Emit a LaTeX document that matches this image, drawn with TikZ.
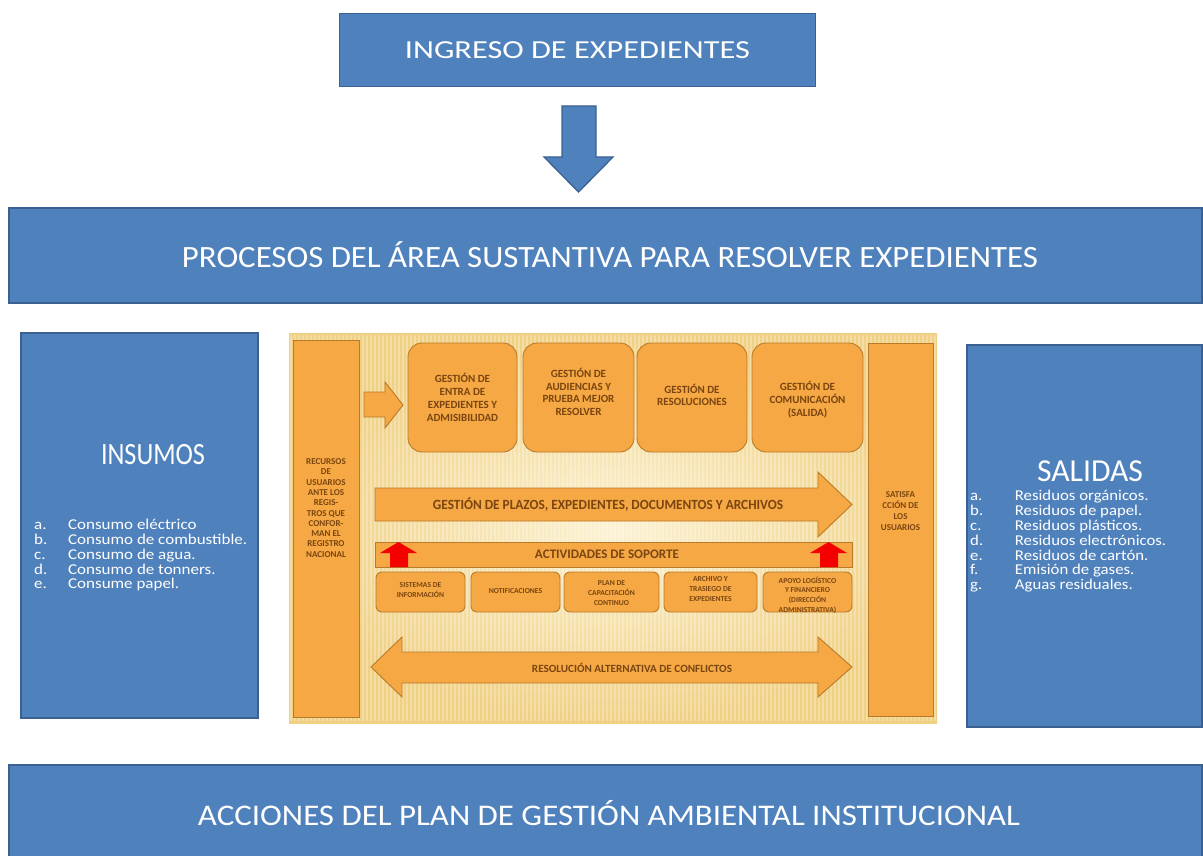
\documentclass[tikz,border=0pt]{standalone}
\usepackage{fontspec}
\usepackage{graphicx}
\setmainfont{Carlito}
\definecolor{blueF}{HTML}{4F81BD}
\definecolor{blueD}{HTML}{3B6193}
\definecolor{orF}{HTML}{F5A843}
\definecolor{orD}{HTML}{B97A2A}
\definecolor{txtB}{HTML}{7A4510}
\definecolor{bgC}{HTML}{FCF2D2}
\definecolor{bgE}{HTML}{F0D083}
\definecolor{redA}{HTML}{F50000}
\begin{document}
\begin{tikzpicture}[x=1pt,y=-1pt,
  bluebox/.style={draw=blueD, line width=1.3pt, fill=blueF, text=white, inner sep=0pt},
  bluetxt/.style={text=white, inner sep=0pt},
  orbox/.style={draw=orD, line width=0.9pt, fill=orF, inner sep=0pt},
  orround/.style={orbox, rounded corners=14pt},
  orsmall/.style={orbox, rounded corners=6pt},
  ortxt/.style={text=txtB, align=center, inner sep=0pt},
  bigtxt/.style={ortxt, font=\bfseries\fontsize{11}{12.8}\selectfont},
  bartxt/.style={ortxt, font=\bfseries\fontsize{9}{10.3}\selectfont},
  smalltxt/.style={ortxt, font=\bfseries\fontsize{7.6}{9.6}\selectfont},
  orarrow/.style={draw=orD, line width=0.9pt, fill=orF},
  redarrow/.style={fill=redA, draw=none},
  bluearrow/.style={draw=blueD, line width=1.3pt, fill=blueF},
]
\useasboundingbox (0,0) rectangle (1203,856);
\fill[white] (0,0) rectangle (1203,856);

% ---------- top box and arrow ----------
\node[bluebox, minimum width=476pt, minimum height=73pt] (ingreso) at (577.5,50)
  {\fontsize{26}{30}\selectfont\resizebox{345pt}{\height}{INGRESO DE EXPEDIENTES}};
\draw[bluearrow] (562,106) -- (596,106) -- (596,157) -- (613,157) -- (578.5,192)
  -- (544,157) -- (562,157) -- cycle;

% ---------- banner procesos ----------
\node[bluebox, minimum width=1193pt, minimum height=95pt] (procesos) at (605.5,255.5) {};
\node[bluetxt] (procesosT) at (610,255)
  {\fontsize{31}{34}\selectfont\resizebox{856pt}{\height}{PROCESOS DEL ÁREA SUSTANTIVA PARA RESOLVER EXPEDIENTES}};

% ---------- insumos ----------
\node[bluebox, minimum width=237pt, minimum height=385pt] (insumos) at (139.5,525.5) {};
\node[bluetxt] (insumosT) at (153,455)
  {\fontsize{31}{34}\selectfont\resizebox{104pt}{\height}{INSUMOS}};
\node[bluetxt, anchor=north west] (insumosL) at (34,519)
  {\resizebox{213pt}{\height}{\fontsize{15}{14.7}\selectfont
   \begin{tabular}{@{}p{30pt}@{}l@{}}
   a. & Consumo eléctrico\\
   b. & Consumo de combustible.\\
   c. & Consumo de agua.\\
   d. & Consumo de tonners.\\
   e. & Consume papel.
   \end{tabular}}};

% ---------- salidas ----------
\node[bluebox, minimum width=235pt, minimum height=382pt] (salidas) at (1084.5,536) {};
\node[bluetxt] (salidasT) at (1090,471)
  {\fontsize{32}{35}\selectfont\resizebox{106pt}{\height}{SALIDAS}};
\node[bluetxt, anchor=north west] (salidasL) at (970,490)
  {\resizebox{196pt}{\height}{\fontsize{15}{14.8}\selectfont
   \begin{tabular}{@{}p{40pt}@{}l@{}}
   a. & Residuos orgánicos.\\
   b. & Residuos de papel.\\
   c. & Residuos plásticos.\\
   d. & Residuos electrónicos.\\
   e. & Residuos de cartón.\\
   f. & Emisión de gases.\\
   g. & Aguas residuales.
   \end{tabular}}};

% ---------- central panel ----------
\shade[inner color=bgC, outer color=bgE] (289,333) rectangle (937,723);
\foreach \i in {0,...,161}
  \draw[white, opacity=0.28, line width=1.3pt] ({291+4*\i},335) -- ++(0,386);

% side bars
\node[orbox, minimum width=66pt, minimum height=377pt] (recursos) at (326,528.5) {};
\node[bartxt] (recursosT) at (326,508)
  {RECURSOS\\DE\\USUARIOS\\ANTE LOS\\REGIS-\\TROS QUE\\CONFOR-\\MAN EL\\REGISTRO\\NACIONAL};
\node[orbox, minimum width=65pt, minimum height=373pt] (satisf) at (900.5,529.5) {};
\node[bartxt, font=\bfseries\fontsize{9}{10.8}\selectfont] (satisfT) at (900.5,511)
  {SATISFA\\CCIÓN DE\\LOS\\USUARIOS};

% top process boxes
\node[orround, minimum width=109pt, minimum height=109pt] (g1) at (462.5,397.5) {};
\node[bigtxt] (g1T) at (462.5,397.5) {GESTIÓN DE\\ENTRA DE\\EXPEDIENTES Y\\ADMISIBILIDAD};
\node[orround, minimum width=111pt, minimum height=109pt] (g2) at (578.5,397.5) {};
\node[bigtxt] (g2T) at (578.5,392) {GESTIÓN DE\\AUDIENCIAS Y\\PRUEBA MEJOR\\RESOLVER};
\node[orround, minimum width=110pt, minimum height=109pt] (g3) at (692,397.5) {};
\node[bigtxt] (g3T) at (692,395) {GESTIÓN DE\\RESOLUCIONES};
\node[orround, minimum width=111pt, minimum height=109pt] (g4) at (807.5,397.5) {};
\node[bigtxt] (g4T) at (807.5,400) {GESTIÓN DE\\COMUNICACIÓN\\(SALIDA)};

% small input arrow
\draw[orarrow] (364,392) -- (385,392) -- (385,382) -- (403,405) -- (385,428)
  -- (385,417) -- (364,417) -- cycle;

% plazos arrow
\draw[orarrow] (375,488) -- (818,488) -- (818,472) -- (852,504.5) -- (818,537)
  -- (818,521) -- (375,521) -- cycle;
\node[ortxt, font=\bfseries] (plazosT) at (608,504.5)
  {\fontsize{14}{16}\selectfont\resizebox{350pt}{\height}{GESTIÓN DE PLAZOS, EXPEDIENTES, DOCUMENTOS Y ARCHIVOS}};

% actividades de soporte
\node[orbox, minimum width=477pt, minimum height=25pt] (soporte) at (613.5,554.5) {};
\node[ortxt, font=\bfseries] (soporteT) at (607,554)
  {\fontsize{13}{15}\selectfont\resizebox{144pt}{\height}{ACTIVIDADES DE SOPORTE}};
\draw[redarrow] (390,567) -- (390,553) -- (380,553) -- (398.5,542) -- (417,553)
  -- (408,553) -- (408,567) -- cycle;
\draw[redarrow] (820,567) -- (820,553) -- (810,553) -- (828.5,542) -- (847,553)
  -- (838,553) -- (838,567) -- cycle;

% support boxes
\node[orsmall, minimum width=89pt, minimum height=40pt] (s1) at (420.5,592) {};
\node[smalltxt] (s1T) at (420.5,590) {SISTEMAS DE\\INFORMACIÓN};
\node[orsmall, minimum width=89pt, minimum height=40pt] (s2) at (515.5,592) {};
\node[smalltxt] (s2T) at (515.5,591) {NOTIFICACIONES};
\node[orsmall, minimum width=95pt, minimum height=40pt] (s3) at (611.5,592) {};
\node[smalltxt] (s3T) at (611.5,593) {PLAN DE\\CAPACITACIÓN\\CONTINUO};
\node[orsmall, minimum width=93pt, minimum height=40pt] (s4) at (710.5,592) {};
\node[smalltxt] (s4T) at (710.5,589) {ARCHIVO Y\\TRASIEGO DE\\EXPEDIENTES};
\node[orsmall, minimum width=89pt, minimum height=40pt] (s5) at (807.5,592) {};
\node[smalltxt] (s5T) at (807.5,595)
  {APOYO LOGÍSTICO\\Y FINANCIERO\\(DIRECCIÓN\\ADMINISTRATIVA)};

% resolucion alternativa
\draw[orarrow] (371,667) -- (402,637) -- (402,652) -- (818,652) -- (818,637)
  -- (852,667) -- (818,697) -- (818,683) -- (402,683) -- (402,697) -- cycle;
\node[ortxt, font=\bfseries] (rescT) at (632,667.5)
  {\fontsize{11}{13}\selectfont\resizebox{200pt}{\height}{RESOLUCIÓN ALTERNATIVA DE CONFLICTOS}};

% ---------- banner acciones ----------
\node[bluebox, minimum width=1193pt, minimum height=97pt] (acciones) at (605.5,813.5) {};
\node[bluetxt] (accionesT) at (609,813)
  {\fontsize{30}{33}\selectfont\resizebox{822pt}{\height}{ACCIONES DEL PLAN DE GESTIÓN AMBIENTAL INSTITUCIONAL}};
\end{tikzpicture}
\end{document}
